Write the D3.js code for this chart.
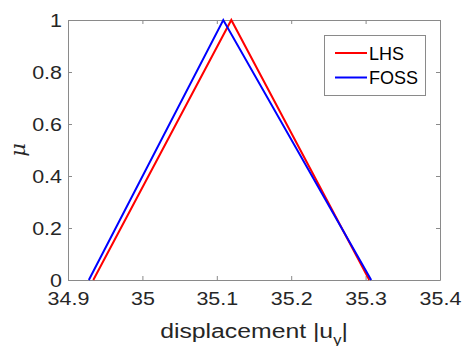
<!DOCTYPE html>
<html>
<head>
<meta charset="utf-8">
<script src="https://cdn.jsdelivr.net/npm/d3@7"></script>
<style>
  body { margin: 0; background: #fff; }
  svg { display: block; font-family: "Liberation Sans", Arial, sans-serif; }
  .wide { transform-box: fill-box; transform-origin: center; transform: scaleX(1.13); }
  .wideR { transform-box: fill-box; transform-origin: right center; transform: scaleX(1.13); }
  .wideL { transform-box: fill-box; transform-origin: center; transform: scaleX(1.18); }
</style>
</head>
<body>
<div class="chart"></div>
<script>
// membership functions, x = displacement, y = mu
const lhsX = [34.934, 35.1195, 35.305];
const lhsMu = [0, 1, 0];
const fossX = [34.928, 35.1087, 35.3075];
const fossMu = [0, 1, 0];
const xTicks = [34.9, 35, 35.1, 35.2, 35.3, 35.4];
const yTicks = [0, 0.2, 0.4, 0.6, 0.8, 1];
const seriesNames = ["LHS", "FOSS"];
const seriesColors = ["#ff0000", "#0000ff"];

const svgWidth = 462;
const svgHeight = 346;
const margin = { top: 20, right: 22, bottom: 66, left: 68 };
const innerWidth = svgWidth - margin.left - margin.right;
const innerHeight = svgHeight - margin.top - margin.bottom;
const axisColor = "#8a8a8a";
const textColor = "#262626";

const svg = d3
  .select(".chart")
  .append("svg")
  .attr("width", svgWidth)
  .attr("height", svgHeight);

const xScale = d3.scaleLinear().domain([34.9, 35.4]).range([0, innerWidth]);
const yScale = d3.scaleLinear().domain([0, 1]).range([innerHeight, 0]);

const g = svg
  .append("g")
  .attr("transform", `translate(${margin.left}, ${margin.top})`);

const fmt = (d) => d3.format("")(+d.toFixed(2));

// bottom + left axes with labels, ticks pointing inward
const xAxisG = g
  .append("g")
  .attr("transform", `translate(0, ${innerHeight})`)
  .call(d3.axisBottom(xScale).tickValues(xTicks).tickFormat(fmt).tickSizeInner(-4).tickSizeOuter(0).tickPadding(12));
const yAxisG = g
  .append("g")
  .call(d3.axisLeft(yScale).tickValues(yTicks).tickFormat(fmt).tickSizeInner(-4).tickSizeOuter(0).tickPadding(6));
// mirrored top + right axes, no labels
const xTopG = g
  .append("g")
  .call(d3.axisTop(xScale).tickValues(xTicks).tickFormat("").tickSizeInner(-4).tickSizeOuter(0));
const yRightG = g
  .append("g")
  .attr("transform", `translate(${innerWidth}, 0)`)
  .call(d3.axisRight(yScale).tickValues(yTicks).tickFormat("").tickSizeInner(-4).tickSizeOuter(0));

[xAxisG, yAxisG, xTopG, yRightG].forEach((a) => {
  a.selectAll(".domain, .tick line").attr("stroke", axisColor).attr("stroke-width", 1);
  a.selectAll("text").attr("fill", textColor).style("font-size", "19px");
});
xTopG.selectAll(".tick text").remove();
yRightG.selectAll(".tick text").remove();
xAxisG.selectAll(".tick text").attr("class", "wide");
yAxisG.selectAll(".tick text").attr("class", "wideR");

xAxisG
  .append("text")
  .attr("class", "wideL")
  .attr("x", innerWidth / 2)
  .attr("y", 58)
  .attr("fill", textColor)
  .attr("text-anchor", "middle")
  .style("font-size", "21px")
  .html('displacement |u<tspan dy="7" font-size="14px">y</tspan><tspan dy="-7">|</tspan>');

yAxisG
  .append("text")
  .attr("transform", "rotate(-90)")
  .attr("x", -innerHeight / 2)
  .attr("y", -43)
  .attr("fill", textColor)
  .attr("text-anchor", "middle")
  .style("font-size", "21px")
  .style("font-style", "italic")
  .style("font-family", "'DejaVu Serif', serif")
  .text("\u03bc");

const series = [
  { name: seriesNames[0], color: seriesColors[0], xs: lhsX, ys: lhsMu },
  { name: seriesNames[1], color: seriesColors[1], xs: fossX, ys: fossMu },
];

const line = d3
  .line()
  .x((d) => xScale(d[0]))
  .y((d) => yScale(d[1]));

series.forEach((s) => {
  g.append("path")
    .attr("d", line(d3.zip(s.xs, s.ys)))
    .attr("fill", "none")
    .attr("stroke", s.color)
    .attr("stroke-width", 2);
});

// legend
const legend = g.append("g").attr("transform", `translate(${256}, ${15})`);
legend
  .append("rect")
  .attr("x", 0.5)
  .attr("y", 0.5)
  .attr("width", 101)
  .attr("height", 60)
  .attr("fill", "#fff")
  .attr("stroke", axisColor)
  .attr("stroke-width", 1);
series.forEach((s, i) => {
  const y = 18 + i * 24.5;
  legend
    .append("line")
    .attr("x1", 11)
    .attr("x2", 43)
    .attr("y1", y)
    .attr("y2", y)
    .attr("stroke", s.color)
    .attr("stroke-width", 2);
  legend
    .append("text")
    .attr("x", 45)
    .attr("y", y + 6.5)
    .attr("fill", "#000")
    .style("font-size", "18px")
    .text(s.name);
});
</script>
</body>
</html>
